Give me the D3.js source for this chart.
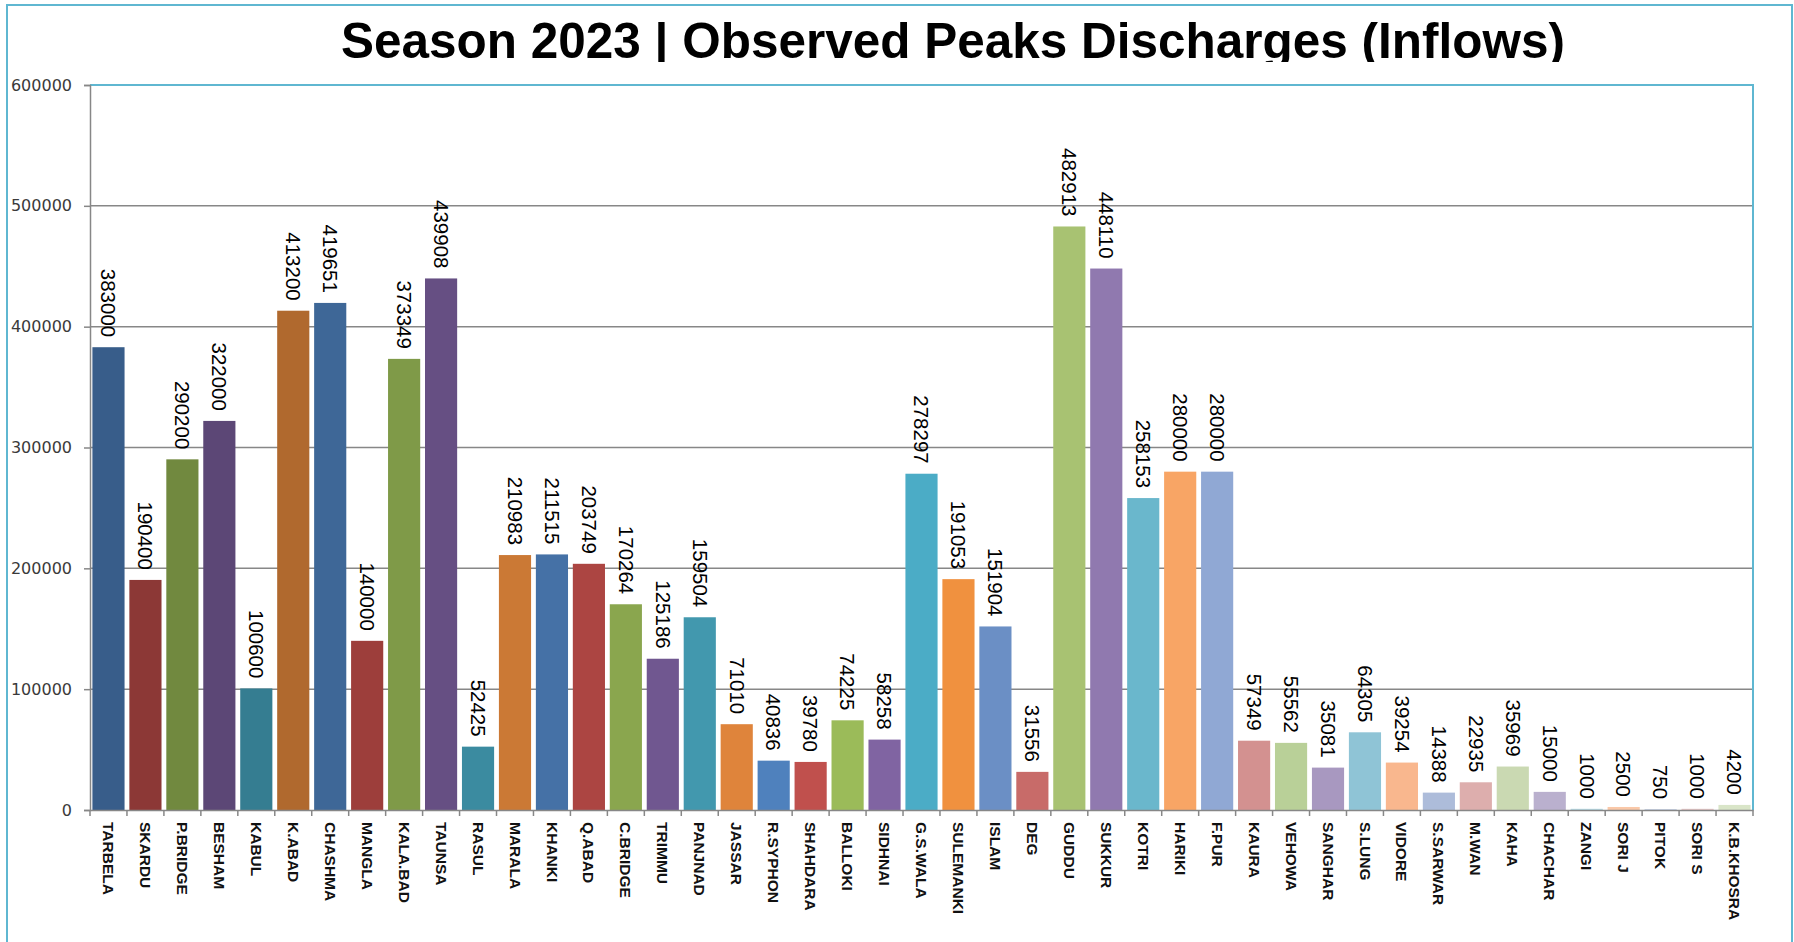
<!DOCTYPE html>
<html><head><meta charset="utf-8">
<script src="https://cdn.jsdelivr.net/npm/d3@7"></script>
<style>body{margin:0;background:#fff;overflow:hidden}</style>
</head><body>
<svg id="c" width="1794" height="942"></svg>
<script>
const categories = ["TARBELA","SKARDU","P.BRIDGE","BESHAM","KABUL","K.ABAD","CHASHMA","MANGLA","KALA.BAD","TAUNSA","RASUL","MARALA","KHANKI","Q.ABAD","C.BRIDGE","TRIMMU","PANJNAD","JASSAR","R.SYPHON","SHAHDARA","BALLOKI","SIDHNAI","G.S.WALA","SULEMANKI","ISLAM","DEG","GUDDU","SUKKUR","KOTRI","HARIKI","F.PUR","KAURA","VEHOWA","SANGHAR","S.LUNG","VIDORE","S.SARWAR","M.WAN","KAHA","CHACHAR","ZANGI","SORI J","PITOK","SORI S","K.B.KHOSRA"];
const values = [383000,190400,290200,322000,100600,413200,419651,140000,373349,439908,52425,210983,211515,203749,170264,125186,159504,71010,40836,39780,74225,58258,278297,191053,151904,31556,482913,448110,258153,280000,280000,57349,55562,35081,64305,39254,14388,22935,35969,15000,1000,2500,750,1000,4200];
const barColors = ["#385D8A","#8C3836","#71893F","#5C4776","#357D91","#B0692E",
  "#3E6797","#9D3E3B","#7F9A48","#664F83","#3B8BA0","#CB7935",
  "#4571A6","#AC4542","#8AA64E","#705790","#4298AE","#DF843B",
  "#4F81BD","#C0504D","#9BBB59","#8064A2","#4BACC6","#F0913F",
  "#6B8FC5","#C86B69","#A8C272","#9079AF","#6AB7CC","#F8A565",
  "#90A8D4","#D39190","#B9D098","#A898C0","#8FC4D6","#F9B78E",
  "#ADBCDA","#DDAEAD","#CAD9B2","#BAB0CE","#B8DCE7","#FAC8A8",
  "#C8D3E8","#E8C9C8","#D9E5C8"];
const yTicks = [0,100000,200000,300000,400000,500000,600000];
const titleText = "Season 2023 | Observed Peaks Discharges (Inflows)";

const svg = d3.select("#c");
const L = 90, R = 1753, T = 85, B = 810;
const x = d3.scaleBand().domain(categories).range([L, R]).paddingInner(0.13).paddingOuter(0.065);
const y = d3.scaleLinear().domain([0, 600000]).range([B, T]);

// outer border
svg.append("rect").attr("x", 7).attr("y", 5).attr("width", 1785).attr("height", 1000)
  .attr("fill", "#fff").attr("stroke", "#5FB7D1").attr("stroke-width", 2);

// title (clipped at bottom like reference)
svg.append("clipPath").attr("id", "tclip").append("rect")
  .attr("x", 0).attr("y", 0).attr("width", 1794).attr("height", 62);
svg.append("text").attr("clip-path", "url(#tclip)")
  .attr("x", 953).attr("y", 58).attr("text-anchor", "middle")
  .attr("font-family", "'Liberation Sans', Arial, sans-serif").attr("font-weight", "bold")
  .attr("font-size", 50).attr("textLength", 1224).attr("lengthAdjust", "spacingAndGlyphs")
  .attr("fill", "#000").text(titleText);

// gridlines
svg.append("g").selectAll("line").data(yTicks.filter(d => d > 0)).join("line")
  .attr("x1", L).attr("x2", R).attr("y1", d => y(d)).attr("y2", d => y(d))
  .attr("stroke", "#878787").attr("stroke-width", 1.5);

// plot border (top/right blue)
svg.append("path").attr("d", `M${L},${y(600000)}H${R}V${B}`)
  .attr("fill", "none").attr("stroke", "#5FB7D1").attr("stroke-width", 2);

// bars
svg.append("g").selectAll("rect").data(categories).join("rect")
  .attr("x", d => x(d)).attr("width", x.bandwidth())
  .attr("y", (d, i) => y(values[i])).attr("height", (d, i) => B - y(values[i]))
  .attr("fill", (d, i) => barColors[i]);

// y axis
const yAxis = svg.append("g").attr("transform", `translate(${L},0)`)
  .call(d3.axisLeft(y).tickValues(yTicks).tickSize(6).tickPadding(12).tickFormat(d3.format("d")));
yAxis.select(".domain").attr("stroke", "#878787").attr("stroke-width", 1.5);
yAxis.selectAll(".tick line").attr("stroke", "#878787").attr("stroke-width", 1.5);
yAxis.selectAll(".tick text").attr("font-family", "'DejaVu Sans', Verdana, sans-serif")
  .attr("font-size", 16).attr("fill", "#3a3a3a");

// x axis
const xAxis = svg.append("g").attr("transform", `translate(0,${B})`)
  .call(d3.axisBottom(x).tickSize(0).tickPadding(0));
xAxis.select(".domain").attr("stroke", "#878787").attr("stroke-width", 1.5);
xAxis.selectAll(".tick text")
  .attr("transform", "translate(0,12) rotate(90)")
  .attr("text-anchor", "start").attr("dy", "0.35em").attr("x", 0).attr("y", 0)
  .attr("font-family", "'Liberation Sans Narrow', 'Liberation Sans', Arial, sans-serif")
  .attr("font-weight", "bold").attr("font-size", 15.5).attr("fill", "#111");
// category separator tick marks
const step = x.step();
const bounds = categories.map(c => x(c) - step * x.paddingInner() / 2).concat([R]);
svg.append("g").selectAll("line").data(bounds).join("line")
  .attr("x1", d => d).attr("x2", d => d).attr("y1", B).attr("y2", B + 6)
  .attr("stroke", "#878787").attr("stroke-width", 1.5);

// data labels
svg.append("g").selectAll("text").data(categories).join("text")
  .attr("transform", (d, i) => `translate(${x(d) + x.bandwidth() / 2},${y(values[i]) - 10}) rotate(90)`)
  .attr("text-anchor", "end").attr("dy", "0.35em")
  .attr("font-family", "'Liberation Sans Narrow', 'Liberation Sans', Arial, sans-serif")
  .attr("font-size", 20.5).attr("fill", "#000")
  .text((d, i) => values[i]);
</script>
</body></html>
